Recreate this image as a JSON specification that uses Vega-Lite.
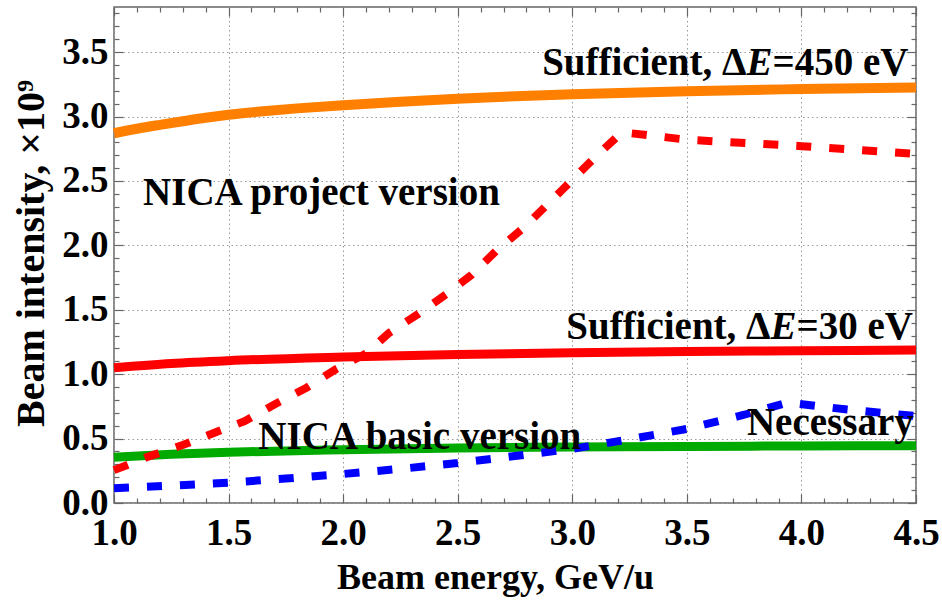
{
  "$schema": "https://vega.github.io/schema/vega-lite/v6.json",
  "width": 802,
  "height": 496,
  "autosize": {"type": "none"},
  "padding": {"left": 114, "top": 7, "right": 26, "bottom": 101},
  "background": "white",
  "config": {"view": {"stroke": "#666", "strokeWidth": 1.5}, "font": "Liberation Serif"},
  "datasets": {
    "orange": [
      {"x": 1.0, "y": 2.87}, {"x": 1.1, "y": 2.905}, {"x": 1.2, "y": 2.935}, {"x": 1.3, "y": 2.963},
      {"x": 1.4, "y": 2.99}, {"x": 1.5, "y": 3.013}, {"x": 1.65, "y": 3.04}, {"x": 1.8, "y": 3.063},
      {"x": 2.0, "y": 3.088}, {"x": 2.25, "y": 3.115}, {"x": 2.5, "y": 3.138}, {"x": 2.75, "y": 3.157},
      {"x": 3.0, "y": 3.173}, {"x": 3.5, "y": 3.197}, {"x": 4.0, "y": 3.213}, {"x": 4.5, "y": 3.225}
    ],
    "redsolid": [
      {"x": 1.0, "y": 1.05}, {"x": 1.25, "y": 1.083}, {"x": 1.5, "y": 1.105}, {"x": 2.0, "y": 1.133},
      {"x": 2.5, "y": 1.153}, {"x": 3.0, "y": 1.167}, {"x": 3.5, "y": 1.176}, {"x": 4.0, "y": 1.182},
      {"x": 4.5, "y": 1.187}
    ],
    "green": [
      {"x": 1.0, "y": 0.355}, {"x": 1.25, "y": 0.378}, {"x": 1.5, "y": 0.394}, {"x": 2.0, "y": 0.414},
      {"x": 2.5, "y": 0.427}, {"x": 3.0, "y": 0.434}, {"x": 3.5, "y": 0.439}, {"x": 4.0, "y": 0.443},
      {"x": 4.5, "y": 0.445}
    ],
    "blue": [
      {"x": 1.0, "y": 0.115}, {"x": 1.25, "y": 0.135}, {"x": 1.5, "y": 0.158}, {"x": 1.75, "y": 0.19},
      {"x": 2.0, "y": 0.225}, {"x": 2.25, "y": 0.265}, {"x": 2.5, "y": 0.31}, {"x": 2.75, "y": 0.365},
      {"x": 3.0, "y": 0.42}, {"x": 3.25, "y": 0.495}, {"x": 3.5, "y": 0.575}, {"x": 3.75, "y": 0.685},
      {"x": 3.94, "y": 0.78}, {"x": 4.2, "y": 0.725}, {"x": 4.5, "y": 0.675}
    ],
    "reddash": [
      {"x": 1.0, "y": 0.255}, {"x": 1.15, "y": 0.36}, {"x": 1.3, "y": 0.45}, {"x": 1.43, "y": 0.54},
      {"x": 1.57, "y": 0.635}, {"x": 1.7, "y": 0.765}, {"x": 1.84, "y": 0.895}, {"x": 1.97, "y": 1.04},
      {"x": 2.1, "y": 1.16}, {"x": 2.2, "y": 1.32}, {"x": 2.33, "y": 1.47}, {"x": 2.45, "y": 1.62},
      {"x": 2.56, "y": 1.77}, {"x": 2.67, "y": 1.96}, {"x": 2.79, "y": 2.14}, {"x": 2.95, "y": 2.42},
      {"x": 3.1, "y": 2.685}, {"x": 3.2, "y": 2.85}, {"x": 3.23, "y": 2.875}, {"x": 3.5, "y": 2.82},
      {"x": 4.0, "y": 2.77}, {"x": 4.5, "y": 2.71}
    ],
    "labelsLeft": [
      {"x": 1.127, "y": 2.31, "text": "NICA project version"},
      {"x": 1.63, "y": 0.42, "text": "NICA basic version"},
      {"x": 3.8736, "y": 3.32, "text": "=450 eV"},
      {"x": 3.9788, "y": 1.27, "text": "=30 eV"}
    ],
    "labelsItalic": [
      {"x": 3.760, "y": 3.32, "text": "E"},
      {"x": 3.8652, "y": 1.27, "text": "E"}
    ],
    "labelsRight": [
      {"x": 3.760, "y": 3.32, "text": "Sufficient, Δ"},
      {"x": 3.8652, "y": 1.27, "text": "Sufficient, Δ"},
      {"x": 4.49, "y": 0.527, "text": "Necessary"}
    ]
  },
  "layer": [
    {
      "data": {"name": "orange"},
      "mark": {"type": "line", "color": "#FF8000", "strokeWidth": 10, "interpolate": "monotone"},
      "encoding": {
        "x": {"field": "x", "type": "quantitative", "scale": {"domain": [1, 4.5], "nice": false, "zero": false},
          "axis": {"orient": "bottom", "values": [1, 1.5, 2, 2.5, 3, 3.5, 4, 4.5], "format": ".1f",
            "ticks": false, "domain": false, "grid": true, "gridDash": [1.5, 3], "gridColor": "#999", "gridWidth": 1,
            "labelFont": "Liberation Serif", "labelFontWeight": "bold", "labelFontSize": 37, "labelColor": "black",
            "labelPadding": 12, "labelFlush": false, "labelOverlap": false,
            "title": "Beam energy, GeV/u", "titleFont": "Liberation Serif", "titleFontWeight": "bold", "titleFontSize": 36,
            "titleColor": "black", "titleX": 381, "titleY": 85, "titleBaseline": "alphabetic", "titleAlign": "center"}},
        "y": {"field": "y", "type": "quantitative", "scale": {"domain": [0, 3.85], "nice": false, "zero": false},
          "axis": {"orient": "left", "values": [0, 0.5, 1, 1.5, 2, 2.5, 3, 3.5], "format": ".1f",
            "ticks": false, "domain": false, "grid": true, "gridDash": [1.5, 3], "gridColor": "#999", "gridWidth": 1,
            "labelFont": "Liberation Serif", "labelFontWeight": "bold", "labelFontSize": 37, "labelColor": "black",
            "labelPadding": 6, "labelFlush": false, "labelOverlap": false,
            "title": "Beam intensity, ×10⁹", "titleFont": "Liberation Serif", "titleFontWeight": "bold", "titleFontSize": 40,
            "titleColor": "black", "titleX": -71, "titleY": 246, "titleBaseline": "alphabetic", "titleAlign": "center", "titleAngle": -90}}
      }
    },
    {
      "data": {"name": "redsolid"},
      "mark": {"type": "line", "color": "#FF0000", "strokeWidth": 9, "interpolate": "monotone"},
      "encoding": {
        "x": {"field": "x", "type": "quantitative", "scale": {"domain": [1, 4.5], "nice": false, "zero": false},
          "axis": {"orient": "top", "values": [1, 1.5, 2, 2.5, 3, 3.5, 4, 4.5], "labels": false, "ticks": true, "tickSize": -9,
            "tickColor": "#666", "tickWidth": 1.2, "domain": false, "grid": false, "title": null}},
        "y": {"field": "y", "type": "quantitative", "scale": {"domain": [0, 3.85], "nice": false, "zero": false},
          "axis": {"orient": "right", "values": [0, 0.5, 1, 1.5, 2, 2.5, 3, 3.5], "labels": false, "ticks": true, "tickSize": -9,
            "tickColor": "#666", "tickWidth": 1.2, "domain": false, "grid": false, "title": null}}
      }
    },
    {
      "data": {"name": "green"},
      "mark": {"type": "line", "color": "#00AA00", "strokeWidth": 9, "interpolate": "monotone"},
      "encoding": {
        "x": {"field": "x", "type": "quantitative", "scale": {"domain": [1, 4.5], "nice": false, "zero": false},
          "axis": {"orient": "bottom", "values": [1.1, 1.2, 1.3, 1.4, 1.6, 1.7, 1.8, 1.9, 2.1, 2.2, 2.3, 2.4, 2.6, 2.7, 2.8, 2.9, 3.1, 3.2, 3.3, 3.4, 3.6, 3.7, 3.8, 3.9, 4.1, 4.2, 4.3, 4.4],
            "labels": false, "ticks": true, "tickSize": -5, "tickColor": "#666", "tickWidth": 1.2, "domain": false, "grid": false, "title": null}},
        "y": {"field": "y", "type": "quantitative", "scale": {"domain": [0, 3.85], "nice": false, "zero": false},
          "axis": {"orient": "left", "values": [0.1, 0.2, 0.3, 0.4, 0.6, 0.7, 0.8, 0.9, 1.1, 1.2, 1.3, 1.4, 1.6, 1.7, 1.8, 1.9, 2.1, 2.2, 2.3, 2.4, 2.6, 2.7, 2.8, 2.9, 3.1, 3.2, 3.3, 3.4, 3.6, 3.7, 3.8],
            "labels": false, "ticks": true, "tickSize": -5, "tickColor": "#666", "tickWidth": 1.2, "domain": false, "grid": false, "title": null}}
      }
    },
    {
      "data": {"name": "blue"},
      "mark": {"type": "line", "color": "#0000FF", "strokeWidth": 8, "strokeDash": [15, 18]},
      "encoding": {
        "x": {"field": "x", "type": "quantitative", "scale": {"domain": [1, 4.5], "nice": false, "zero": false},
          "axis": {"orient": "top", "values": [1.1, 1.2, 1.3, 1.4, 1.6, 1.7, 1.8, 1.9, 2.1, 2.2, 2.3, 2.4, 2.6, 2.7, 2.8, 2.9, 3.1, 3.2, 3.3, 3.4, 3.6, 3.7, 3.8, 3.9, 4.1, 4.2, 4.3, 4.4],
            "labels": false, "ticks": true, "tickSize": -5, "tickColor": "#666", "tickWidth": 1.2, "domain": false, "grid": false, "title": null}},
        "y": {"field": "y", "type": "quantitative", "scale": {"domain": [0, 3.85], "nice": false, "zero": false},
          "axis": {"orient": "right", "values": [0.1, 0.2, 0.3, 0.4, 0.6, 0.7, 0.8, 0.9, 1.1, 1.2, 1.3, 1.4, 1.6, 1.7, 1.8, 1.9, 2.1, 2.2, 2.3, 2.4, 2.6, 2.7, 2.8, 2.9, 3.1, 3.2, 3.3, 3.4, 3.6, 3.7, 3.8],
            "labels": false, "ticks": true, "tickSize": -5, "tickColor": "#666", "tickWidth": 1.2, "domain": false, "grid": false, "title": null}}
      }
    },
    {
      "data": {"name": "reddash"},
      "mark": {"type": "line", "color": "#FF0000", "strokeWidth": 8, "strokeDash": [15, 18]},
      "encoding": {
        "x": {"field": "x", "type": "quantitative", "scale": {"domain": [1, 4.5], "nice": false, "zero": false},
          "axis": {"orient": "bottom", "values": [1, 1.5, 2, 2.5, 3, 3.5, 4, 4.5], "labels": false, "ticks": true, "tickSize": -9,
            "tickColor": "#666", "tickWidth": 1.2, "domain": false, "grid": false, "title": null}},
        "y": {"field": "y", "type": "quantitative", "scale": {"domain": [0, 3.85], "nice": false, "zero": false},
          "axis": {"orient": "left", "values": [0, 0.5, 1, 1.5, 2, 2.5, 3, 3.5], "labels": false, "ticks": true, "tickSize": -9,
            "tickColor": "#666", "tickWidth": 1.2, "domain": false, "grid": false, "title": null}}
      }
    },
    {
      "data": {"name": "labelsLeft"},
      "mark": {"type": "text", "align": "left", "baseline": "alphabetic", "font": "Liberation Serif", "fontWeight": "bold", "fontSize": 39, "color": "black"},
      "encoding": {
        "x": {"field": "x", "type": "quantitative", "scale": {"domain": [1, 4.5], "nice": false, "zero": false}, "axis": null},
        "y": {"field": "y", "type": "quantitative", "scale": {"domain": [0, 3.85], "nice": false, "zero": false}, "axis": null},
        "text": {"field": "text"}
      }
    },
    {
      "data": {"name": "labelsItalic"},
      "mark": {"type": "text", "align": "left", "baseline": "alphabetic", "font": "Liberation Serif", "fontWeight": "bold", "fontStyle": "italic", "fontSize": 39, "color": "black"},
      "encoding": {
        "x": {"field": "x", "type": "quantitative", "scale": {"domain": [1, 4.5], "nice": false, "zero": false}, "axis": null},
        "y": {"field": "y", "type": "quantitative", "scale": {"domain": [0, 3.85], "nice": false, "zero": false}, "axis": null},
        "text": {"field": "text"}
      }
    },
    {
      "data": {"name": "labelsRight"},
      "mark": {"type": "text", "align": "right", "baseline": "alphabetic", "font": "Liberation Serif", "fontWeight": "bold", "fontSize": 39, "color": "black"},
      "encoding": {
        "x": {"field": "x", "type": "quantitative", "scale": {"domain": [1, 4.5], "nice": false, "zero": false}, "axis": null},
        "y": {"field": "y", "type": "quantitative", "scale": {"domain": [0, 3.85], "nice": false, "zero": false}, "axis": null},
        "text": {"field": "text"}
      }
    }
  ],
  "resolve": {"axis": {"x": "independent", "y": "independent"}}
}
